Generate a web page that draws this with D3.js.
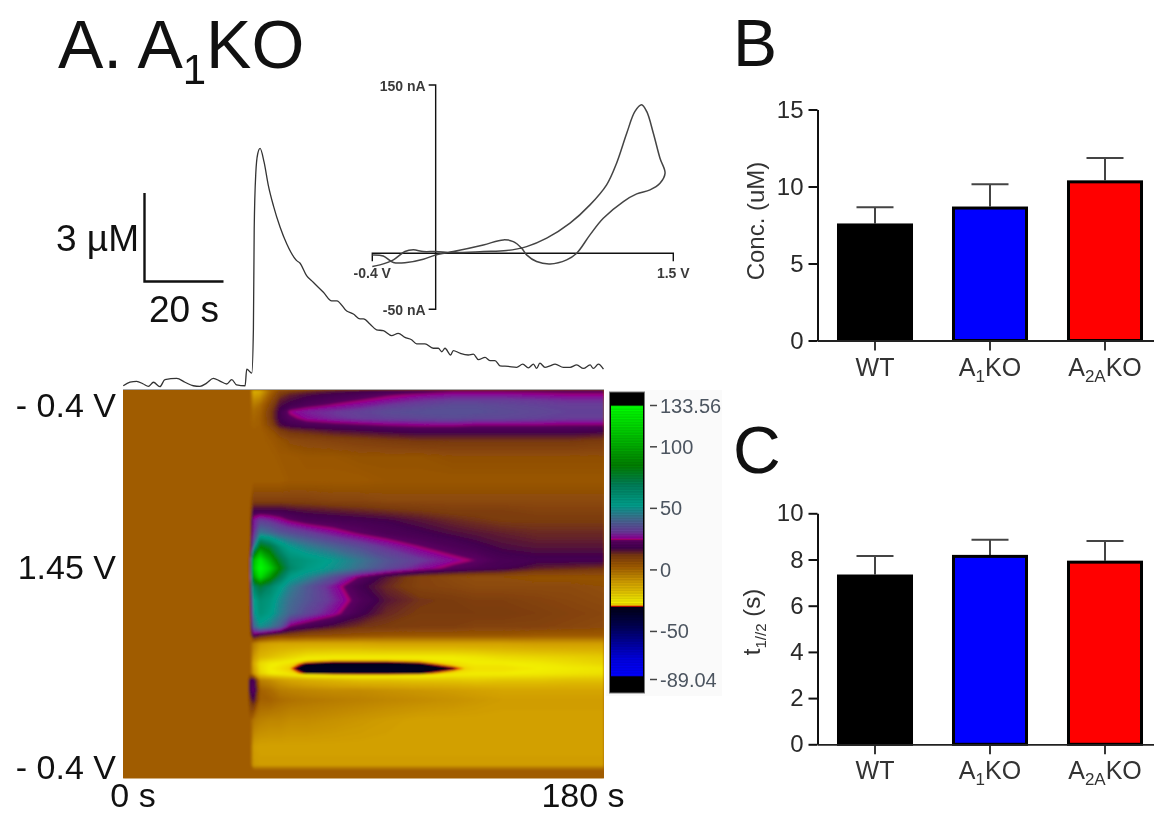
<!DOCTYPE html>
<html>
<head>
<meta charset="utf-8">
<script src="https://cdnjs.cloudflare.com/ajax/libs/d3/7.8.5/d3.min.js"></script>
<style>
    html, body { margin: 0; padding: 0; background: #fff; }
    svg { display: block; font-family: "Liberation Sans", Arial, sans-serif; filter: blur(0.6px); }
</style>
</head>
<body>
<svg id="chart" width="1154" height="814"></svg>
<script>
'use strict';
// i-t trace: time (s), concentration (uM)
var traceTime = [0.1, 2.6, 5.1, 7.6, 9.5, 11.4, 13.8, 15.7, 20.1, 23.2, 26.3, 28.8, 31.3, 33.8, 36.3, 38.8, 40.7, 42.5, 45.7, 46.3, 48.2, 48.8, 49.1, 49.7, 50.4, 51.3, 52.8, 54.4, 56.3, 58.8, 61.3, 65, 66.2, 68.7, 71.2, 75, 78.1, 80, 83.7, 86.2, 88.7, 90, 92.4, 94.9, 97.4, 100.5, 103, 105.5, 108, 109.9, 113, 116.1, 118, 119.3, 120.5, 122.6, 123.6, 126.1, 129.2, 131.1, 133, 135.5, 137.3, 139.2, 141.1, 144.2, 147.3, 149.6, 151.7, 153.6, 154.8, 156, 157.9, 159.8, 161.7, 164.8, 167.3, 169.8, 172.3, 174.8, 176, 177.9, 179.8];
var traceConc = [-0.06, 0.06, 0.09, 0, -0.08, 0.06, -0.09, 0.15, 0.19, 0.06, -0.06, -0.08, 0.03, 0.19, 0.1, 0, 0.15, -0.03, -0.06, 0.51, 0.37, 1.88, 5.29, 7.2, 7.85, 8.04, 7.57, 6.77, 6.08, 5.35, 4.78, 4.21, 4.13, 3.7, 3.47, 3.13, 2.84, 2.84, 2.49, 2.39, 2.22, 2.22, 2.05, 1.85, 1.82, 1.65, 1.73, 1.59, 1.51, 1.37, 1.37, 1.22, 1.22, 1.1, 1.22, 0.99, 1.14, 1.05, 0.99, 1.02, 0.83, 0.91, 0.8, 0.8, 0.62, 0.6, 0.57, 0.68, 0.55, 0.68, 0.53, 0.71, 0.57, 0.62, 0.68, 0.57, 0.57, 0.65, 0.53, 0.65, 0.53, 0.68, 0.51];

// cyclic voltammogram inset: potential (V), current (nA)
var cvVolt = [-0.4, -0.331, -0.267, -0.183, -0.078, 0, 0.111, 0.301, 0.427, 0.49, 0.543, 0.574, 0.637, 0.722, 0.827, 0.89, 0.974, 1.058, 1.185, 1.269, 1.353, 1.416, 1.448, 1.416, 1.374, 1.332, 1.3, 1.258, 1.206, 1.142, 1.079, 0.974, 0.848, 0.701, 0.574, 0.448, 0.301, 0.111, 0, -0.078, -0.141, -0.194, -0.267, -0.352, -0.4];
var cvCurrent = [-1.5, -2.4, -8.3, -8.3, -5.4, -1.5, 1.5, 7.4, 11.9, 10.4, 4.5, -1.5, -7.4, -9.5, -5.9, 0, 16.4, 31.2, 46.1, 52.9, 56.5, 62.4, 71.4, 84.7, 107, 126.4, 132.3, 126.4, 107, 80.3, 61, 43.1, 26.8, 13.4, 5.9, 2.4, 1.5, 0.6, 1.5, 1.5, 3, 1.5, -5.9, -10.4, -11.9];

// colour plot: current (nA) per scan position (rows, % of sweep) and time (columns, s)
var heatTimes = [0, 46.8, 47.5, 48.8, 51.3, 55, 58.8, 62.5, 68.7, 78.7, 88.7, 98.7, 111, 123.6, 132, 142, 155, 167, 180];
var heatSweep = [0, 1.3, 2.6, 3.9, 5.6, 7.3, 9, 10.3, 12.9, 17.2, 23.2, 28.3, 30.9, 33.5, 36.9, 40.3, 43.8, 45.9, 48.1, 50.6, 54.1, 57.5, 60.9, 63.1, 65.2, 68.7, 70.4, 71.7, 73, 74.7, 77.3, 79.8, 85, 91.8, 96.6, 97.9, 100];
var heatRows = [
    [3, 3, 3, -14, -12, 0, 8, 10, 12, 15, 16, 18, 20, 22, 22, 22, 22, 22, 22],
    [3, 3, 3, -10, -8, 3, 12, 15, 17, 19, 21, 24, 26, 28, 28, 28, 27, 26, 26],
    [3, 3, 3, -6, -4, 6, 15, 17, 19, 21.5, 24.5, 27, 30, 32, 32, 32, 31, 30, 30],
    [3, 3, 3, -3, 0, 9, 17, 19, 22, 25.5, 28, 31, 33, 35, 35, 34, 33, 32, 32],
    [3, 3, 3, 0, 2, 11, 19, 26, 29, 31, 33, 35, 36, 36, 36, 35, 34, 33, 33],
    [3, 3, 3, 1, 3, 11, 19, 23, 27, 30, 32, 33, 34, 35, 34, 34, 33, 32, 32],
    [3, 3, 3, 2, 3, 9, 17, 19, 21, 22, 23.5, 25, 26, 26, 25, 25, 25, 24.5, 24.5],
    [3, 3, 3, 3, 3, 6, 12, 14, 15, 17, 18, 19, 20, 20, 20, 20, 20, 20, 19],
    [3, 3, 3, 3, 3, 4, 6, 8, 9, 10, 11, 12, 13, 13, 13, 13, 13, 13, 12],
    [3, 3, 3, 3, 3, 3, 4, 4, 5, 5, 6, 6, 6, 7, 7, 7, 7, 7, 7],
    [3, 3, 3, 3, 3, 3, 3, 4, 4, 4, 4, 5, 5, 5, 5, 5, 5, 5, 5],
    [3, 3, 3, 10, 10, 10, 10, 10, 10, 9, 9, 8, 8, 8, 8, 8, 8, 8, 8],
    [3, 3, 3, 18, 18, 18, 18, 17, 16, 15, 14, 13, 12, 11, 11, 11, 10, 10, 10],
    [3, 3, 3, 28, 32, 30, 27, 24, 21, 20, 19, 18, 16, 14, 13, 12, 12, 12, 12],
    [3, 3, 3, 30, 45, 42, 38, 36, 33, 28, 24, 21, 19, 17, 16, 15, 14, 14, 14],
    [3, 3, 4, 40, 85, 75, 60, 52, 46, 40, 35, 30, 24.8, 21, 19, 17, 16, 16, 16],
    [3, 3, 8, 105, 125, 100, 75, 62, 58, 52, 44, 37, 32, 27, 24.5, 20, 19, 19, 19],
    [3, 3, 8, 110, 133, 115, 85, 65, 56, 50, 42, 35, 28, 23, 21, 19, 15, 14, 13],
    [3, 3, 6, 95, 120, 95, 70, 55, 48, 36, 24, 16, 10, 8, 7, 7, 6, 6, 6],
    [3, 3, 5, 65, 75, 65, 55, 46, 38, 28, 19, 14, 10, 9, 8, 8, 8, 8, 7],
    [3, 3, 4, 52, 62, 58, 48, 42, 37, 30, 22, 16, 13, 12, 11, 11, 10, 9, 8],
    [3, 3, 4, 48, 60, 55, 46, 40, 34, 27, 19, 14, 12, 12, 12, 12, 11, 10, 9],
    [3, 3, 3, 40, 50, 45, 38, 24, 20, 16, 13, 12, 11, 11, 10, 10, 10, 9, 8],
    [3, 3, 3, 22, 17, 13, 10, 10, 8, 7, 6, 5, 5, 5, 5, 5, 4, 4, 4],
    [3, 3, 3, -3, -8, -10, -11, -11, -11, -11, -11, -10, -10, -10, -10, -10, -9, -9, -9],
    [3, 3, 3, -8, -15, -17, -19, -21, -24, -25, -25, -25, -25, -25, -24, -22, -21, -20, -19],
    [3, 3, 3, -12, -22, -25, -26, -27, -30, -31, -31, -31, -30, -27, -26, -26, -25, -23, -21],
    [3, 3, 3, -10, -22, -26, -27, -28.5, -33, -34, -34, -34, -33, -30, -27, -27, -26, -25, -24],
    [3, 3, 3, -8, -20, -25, -26, -27, -30, -31, -31, -31, -30, -27, -26, -26, -25, -24, -23],
    [3, 3, 18, 22, -4, -6, -9, -11, -13, -15, -17, -17, -18, -18, -19, -18, -18, -17, -17],
    [3, 3, 18, 25, 2, 0, -3, -4, -5, -6, -6, -7, -8, -9, -10, -11, -11, -11, -11],
    [3, 3, 12, 18, 2, 2, 0, -1, -2, -3, -4, -5, -6, -7, -8, -9, -9, -9, -9],
    [3, 3, 3, -2, -4, -5, -5, -6, -6, -7, -8, -9, -10, -10, -10, -10, -10, -10, -10],
    [3, 3, 3, -9, -10, -10, -10, -10, -10, -10, -10, -10, -10, -10, -10, -10, -10, -10, -10],
    [3, 3, 3, -8, -9, -9, -9, -9, -9, -9, -9, -9, -9, -9, -9, -9, -9, -9, -9],
    [3, 3, 3, 3, 3, 3, 3, 3, 3, 3, 3, 3, 3, 3, 3, 3, 3, 3, 3],
    [3, 3, 3, 3, 3, 3, 3, 3, 3, 3, 3, 3, 3, 3, 3, 3, 3, 3, 3]
];

// false colour map
var colorStops = [-89.04, -86, -72, -45, -30, -29.5, -28.5, -26, -15, -10, 0, 3, 12, 18, 24, 25, 26, 31, 42, 53, 69, 85, 120, 133.56];
var colorValues = ['#000000', '#0000ff', '#0000e0', '#000050', '#000018', '#e00000', '#f0d000', '#f2ee00', '#dcb400', '#d2a000', '#aa6a00', '#a05c00', '#7a3a10', '#42004f', '#5c0062', '#b00070', '#8c0096', '#6a3a98', '#3f6f90', '#00a08c', '#007f5a', '#008000', '#00e000', '#00ff00'];
var legendTicks = [133.56, 100, 50, 0, -50, -89.04];

// bar panels
var categories = ['WT', 'A1KO', 'A2AKO'];
var categoryParts = [['WT'], ['A', '1', 'KO'], ['A', '2A', 'KO']];
var barColors = ['#000000', '#0000ff', '#ff0000'];
var concMean = [7.6, 8.7, 10.4];
var concErr = [1.05, 1.45, 1.45];
var halfMean = [7.35, 8.2, 7.95];
var halfErr = [0.8, 0.65, 0.85];
var concTicks = [0, 5, 10, 15];
var halfTicks = [0, 2, 4, 6, 8, 10];

var svg = d3.select('#chart');
var textColor = '#111';

function label(x, y, str, size, anchor) {
    return svg.append('text')
        .attr('x', x)
        .attr('y', y)
        .attr('font-size', size)
        .attr('text-anchor', anchor || 'start')
        .attr('fill', textColor)
        .text(str);
}

// Title and panel letters
var title = label(58, 68, 'A. A', 68);
title.append('tspan').attr('font-size', 42).attr('dy', 16).text('1');
title.append('tspan').attr('dy', -16).text('KO');
label(733, 66, 'B', 66);
label(733, 473, 'C', 66);

// Colour plot
var xTime = d3.scaleLinear().domain([0, 180]).range([123, 604]);
var ySweep = d3.scaleLinear().domain([0, 100]).range([390, 778.5]);
var heatColor = d3.scaleLinear().domain(colorStops).range(colorValues).clamp(true);

var nCols = heatTimes.length;
var nRows = heatSweep.length;
var colToTime = d3.scaleLinear().domain(d3.range(nCols)).range(heatTimes).clamp(true);
var rowToSweep = d3.scaleLinear().domain(d3.range(nRows)).range(heatSweep).clamp(true);

var contours = d3.contours()
    .size([nCols, nRows])
    .thresholds(d3.range(-36, 136, 0.5))(d3.merge(heatRows));

// the grid is not evenly spaced, so contour coordinates go through time and sweep
var gridPath = d3.geoPath(d3.geoTransform({
    point: function(gx, gy) {
        this.stream.point(xTime(colToTime(gx - 0.5)), ySweep(rowToSweep(gy - 0.5)));
    }
}));

var defs = svg.append('defs');
defs.append('clipPath').attr('id', 'heatClip').append('rect')
    .attr('x', xTime(0))
    .attr('y', ySweep(0))
    .attr('width', xTime(180) - xTime(0))
    .attr('height', ySweep(100) - ySweep(0));
defs.append('filter').attr('id', 'heatBlur')
    .append('feGaussianBlur').attr('stdDeviation', 1.3);

var heatClip = svg.append('g').attr('clip-path', 'url(#heatClip)');
heatClip.append('rect')
    .attr('x', xTime(0))
    .attr('y', ySweep(0))
    .attr('width', xTime(180) - xTime(0))
    .attr('height', ySweep(100) - ySweep(0))
    .attr('fill', heatColor(3));
heatClip.append('g')
    .attr('filter', 'url(#heatBlur)')
    .selectAll('path')
    .data(contours)
    .join('path')
    .attr('d', gridPath)
    .attr('fill', function(d) { return heatColor(d.value); });

svg.append('line')
    .attr('x1', xTime(0)).attr('x2', xTime(180))
    .attr('y1', ySweep(0) - 0.5).attr('y2', ySweep(0) - 0.5)
    .attr('stroke', '#a9a9a9');

label(116, 416.5, '- 0.4 V', 34, 'end');
label(116, 579, '1.45 V', 34, 'end');
label(116, 779, '- 0.4 V', 34, 'end');
label(133, 806.5, '0 s', 34, 'middle');
label(583, 806.5, '180 s', 34, 'middle');

// Colour bar
var yLegend = d3.scaleLinear().domain([-89.04, 133.56]).range([679.5, 405.5]);
svg.append('rect')
    .attr('x', 606).attr('y', 390).attr('width', 116).attr('height', 306)
    .attr('fill', '#fafafa');
svg.append('rect')
    .attr('x', 609.5).attr('y', 392).attr('width', 35).attr('height', 301)
    .attr('fill', '#000').attr('stroke', '#777');
svg.append('g')
    .selectAll('rect')
    .data(d3.range(-86, 133.5, 0.5))
    .join('rect')
    .attr('x', 611)
    .attr('y', function(d) { return yLegend(d) - 0.5; })
    .attr('width', 32)
    .attr('height', 1)
    .attr('fill', function(d) { return heatColor(d); });
var legendTick = svg.append('g')
    .selectAll('g')
    .data(legendTicks)
    .join('g')
    .attr('transform', function(d) { return 'translate(650,' + yLegend(d) + ')'; });
legendTick.append('line')
    .attr('x2', 7)
    .attr('stroke', '#444')
    .attr('stroke-width', 1.5);
legendTick.append('text')
    .attr('x', 10)
    .attr('dy', 7)
    .attr('font-family', '"Liberation Sans Narrow", "Liberation Sans", sans-serif')
    .attr('font-size', 20)
    .attr('fill', '#4c5560')
    .text(function(d) { return d; });

// Trace
var yConc = d3.scaleLinear().domain([0, 8]).range([384, 149.6]);
var traceLine = d3.line()
    .x(function(d, i) { return xTime(traceTime[i]); })
    .y(function(d) { return yConc(d); })
    .curve(d3.curveMonotoneX);
svg.append('path')
    .attr('d', traceLine(traceConc))
    .attr('fill', 'none')
    .attr('stroke', '#333')
    .attr('stroke-width', 1.3);

// Scale bar
svg.append('path')
    .attr('d', 'M144.5,193V281.5H223.5')
    .attr('fill', 'none')
    .attr('stroke', '#111')
    .attr('stroke-width', 2.4);
label(56, 251, '3 \u00b5M', 37);
label(149, 321.5, '20 s', 37);

// CV inset
var xVolt = d3.scaleLinear().domain([-0.4, 1.5]).range([372.3, 673.3]);
var yCurrent = d3.scaleLinear().domain([-50, 150]).range([309.3, 85]);
var cvLine = d3.line()
    .x(function(d, i) { return xVolt(cvVolt[i]); })
    .y(function(d) { return yCurrent(d); })
    .curve(d3.curveCatmullRom);
var inset = svg.append('g').attr('fill', 'none').attr('stroke', '#111').attr('stroke-width', 1.4);
inset.append('path')
    .attr('d', 'M' + (xVolt(0) - 7) + ',' + yCurrent(150) + 'H' + xVolt(0) + 'V' + yCurrent(-50) + 'H' + (xVolt(0) - 7));
inset.append('path')
    .attr('d', 'M' + xVolt(-0.4) + ',' + (yCurrent(0) + 8) + 'V' + yCurrent(0) + 'H' + xVolt(1.5) + 'V' + (yCurrent(0) + 8));
svg.append('path')
    .attr('d', cvLine(cvCurrent))
    .attr('fill', 'none')
    .attr('stroke', '#444')
    .attr('stroke-width', 1.5);
function insetLabel(x, y, str, anchor) {
    label(x, y, str, 14, anchor).attr('font-weight', 'bold').attr('fill', '#3a3a3a');
}
insetLabel(xVolt(0) - 10, yCurrent(150) + 5.5, '150 nA', 'end');
insetLabel(xVolt(0) - 10, yCurrent(-50) + 5.5, '-50 nA', 'end');
insetLabel(xVolt(-0.4), 278, '-0.4 V', 'middle');
insetLabel(xVolt(1.5), 278, '1.5 V', 'middle');

// Bar panels
var xBar = d3.scaleBand()
    .domain(categories)
    .range([817.5, 1162.5])
    .paddingInner(0.339)
    .paddingOuter(0.1695);

function barPanel(means, errs, yMax, ticks, yTop, yBottom) {
    var yScale = d3.scaleLinear().domain([0, yMax]).range([yBottom, yTop]);
    var g = svg.append('g');

    // error bars go under the bars
    g.append('g')
        .selectAll('path')
        .data(categories)
        .join('path')
        .attr('d', function(d, i) {
            var cx = xBar(d) + xBar.bandwidth() / 2;
            return 'M' + cx + ',' + yScale(means[i]) + 'V' + yScale(means[i] + errs[i]) +
                'M' + (cx - 18.5) + ',' + yScale(means[i] + errs[i]) + 'H' + (cx + 18.5);
        })
        .attr('fill', 'none')
        .attr('stroke', '#444')
        .attr('stroke-width', 2);

    g.append('g')
        .selectAll('rect')
        .data(categories)
        .join('rect')
        .attr('x', function(d) { return xBar(d) + 1.5; })
        .attr('y', function(d, i) { return yScale(means[i]) + 1.5; })
        .attr('width', xBar.bandwidth() - 3)
        .attr('height', function(d, i) { return yBottom - yScale(means[i]) - 1.5; })
        .attr('fill', function(d, i) { return barColors[i]; })
        .attr('stroke', '#000')
        .attr('stroke-width', 3);

    var yAxis = g.append('g')
        .attr('transform', 'translate(817.5,0)')
        .call(d3.axisLeft(yScale).tickValues(ticks).tickSize(9).tickSizeOuter(0).tickPadding(5));
    yAxis.selectAll('path, line').attr('stroke', '#111').attr('stroke-width', 2);
    yAxis.selectAll('text').attr('font-size', 24).attr('font-family', null).attr('fill', '#2a2a2a');

    var xAxis = g.append('g')
        .attr('transform', 'translate(0,' + yBottom + ')')
        .call(d3.axisBottom(xBar).tickSize(10).tickSizeOuter(0).tickFormat(''));
    xAxis.selectAll('path, line').attr('stroke', '#222').attr('stroke-width', 1.8);

    var tick = g.append('g')
        .selectAll('text')
        .data(categoryParts)
        .join('text')
        .attr('x', function(d, i) { return xBar(categories[i]) + xBar.bandwidth() / 2; })
        .attr('y', yBottom + 35)
        .attr('text-anchor', 'middle')
        .attr('font-size', 25)
        .attr('fill', '#333');
    tick.each(function(parts) {
        var t = d3.select(this);
        t.append('tspan').text(parts[0]);
        if (parts.length > 1) {
            t.append('tspan').attr('font-size', 17).attr('dy', 6).text(parts[1]);
            t.append('tspan').attr('dy', -6).text(parts[2]);
        }
    });
}
barPanel(concMean, concErr, 15, concTicks, 109.5, 340.5);
barPanel(halfMean, halfErr, 10, halfTicks, 513.3, 744.3);

label(0, 0, 'Conc. (uM)', 24, 'middle')
    .attr('transform', 'translate(764,221) rotate(-90)')
    .attr('fill', '#333');
var halfLabel = label(0, 0, 't', 24, 'middle')
    .attr('transform', 'translate(760,622) rotate(-90)')
    .attr('fill', '#333');
halfLabel.append('tspan').attr('font-size', 15).attr('dy', 6).text('1//2');
halfLabel.append('tspan').attr('dy', -6).text(' (s)');
</script>
</body>
</html>
